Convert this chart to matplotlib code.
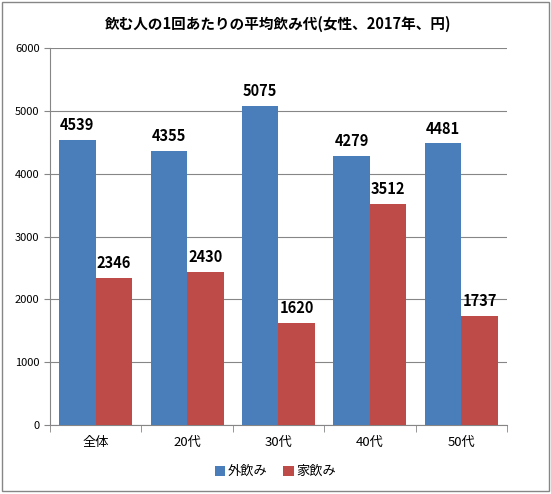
import matplotlib.pyplot as plt
import numpy as np

plt.rcParams['font.family'] = ['Noto Sans CJK JP', 'DejaVu Sans']

categories = ['全体', '20代', '30代', '40代', '50代']
soto_nomi = [4539, 4355, 5075, 4279, 4481]
ie_nomi = [2346, 2430, 1620, 3512, 1737]
series_names = ['外飲み', '家飲み']
colors = ['#4A7EBB', '#BE4B48']
yticks = [0, 1000, 2000, 3000, 4000, 5000, 6000]

fig = plt.figure(figsize=(5.51, 4.94), dpi=100)
ax = fig.add_axes([0.0907, 0.1397, 0.8293, 0.7631])

x = np.arange(len(categories))
w = 0.4
b1 = ax.bar(x - w / 2, soto_nomi, w, color=colors[0], label=series_names[0], zorder=3)
b2 = ax.bar(x + w / 2, ie_nomi, w, color=colors[1], label=series_names[1], zorder=3)

for bars in (b1, b2):
    for rect in bars:
        ax.annotate(str(int(rect.get_height())),
                    (rect.get_x() + rect.get_width() / 2, rect.get_height()),
                    xytext=(0, 5), textcoords='offset points',
                    ha='center', va='bottom', fontsize=10.5, fontweight='bold')

ax.set_xlim(-0.5, len(categories) - 0.5)
ax.set_ylim(0, 6000)
ax.set_yticks(yticks)
ax.set_yticklabels([str(v) for v in yticks], fontsize=8)
ax.set_xticks(x)
ax.set_xticklabels(categories, fontsize=9.5)
ax.set_xticks(np.arange(len(categories) + 1) - 0.5, minor=True)
ax.tick_params(axis='x', which='major', length=0, pad=8)
ax.tick_params(axis='x', which='minor', length=5, color='#868686')
ax.tick_params(axis='y', length=4, color='#868686')
ax.grid(axis='y', color='#868686', linewidth=0.8, zorder=0)

for s in ['top', 'right']:
    ax.spines[s].set_visible(False)
ax.spines['left'].set_color('#868686')
ax.spines['bottom'].set_color('#868686')

ax.set_title('飲む人の1回あたりの平均飲み代(女性、2017年、円)',
             fontsize=10.5, fontweight='bold', pad=14)

fig.legend(loc='center', bbox_to_anchor=(0.5, 0.045), ncol=2, frameon=False,
           fontsize=9.5, handlelength=0.8, handleheight=0.8, columnspacing=1.2,
           handletextpad=0.2)

fig.patches.append(plt.Rectangle((0.004, 0.006), 0.992, 0.99, transform=fig.transFigure,
                                 fill=False, edgecolor='#868686', linewidth=1))

fig.savefig('out.png', dpi=100)
